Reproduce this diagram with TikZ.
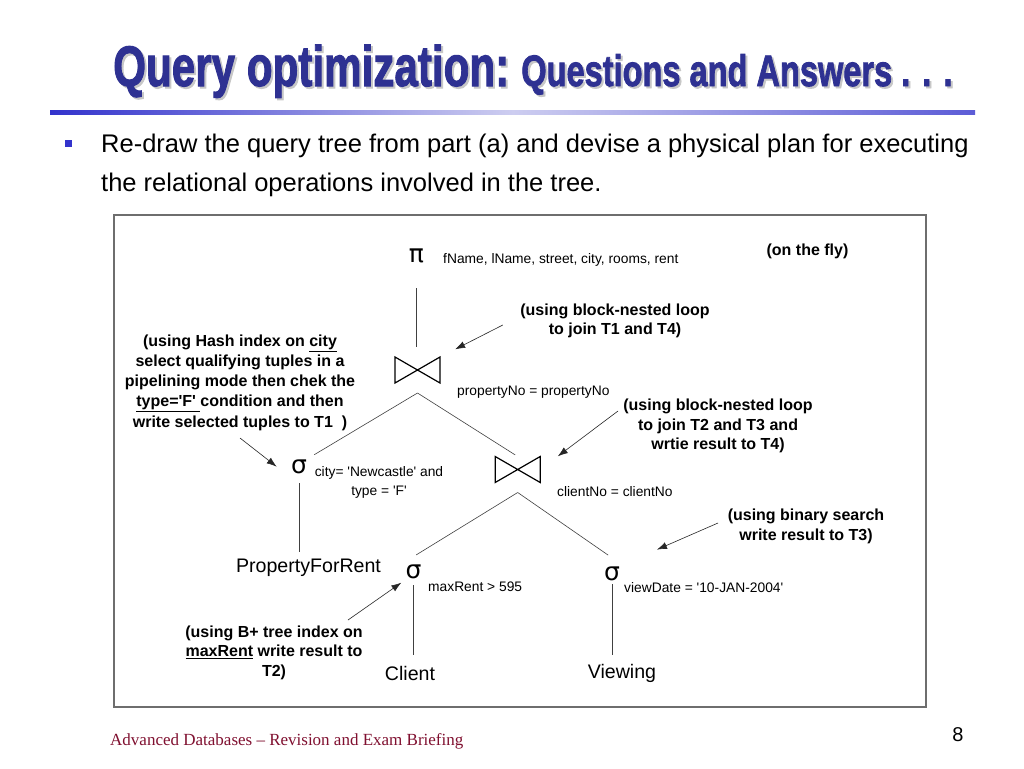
\documentclass[tikz,border=0pt]{standalone}
\usepackage{fontspec}
\setmainfont{Liberation Sans}
\newfontfamily\footfont{Liberation Serif}
\newfontfamily\opfont{DejaVu Sans}
\newfontfamily\titlefont{Liberation Sans}[BoldFeatures={FakeBold=2}]
\usetikzlibrary{arrows.meta}
\definecolor{TitleBlue}{RGB}{46,49,146}
\definecolor{BarBlue}{RGB}{51,51,204}
\definecolor{BarLight}{RGB}{205,205,240}
\definecolor{FootRed}{RGB}{128,16,48}
\definecolor{FrameGrey}{RGB}{110,110,110}
\newcommand{\tq}{\textquotesingle}
\newcommand{\qotitle}{\scalebox{0.74}[1]{\titlefont\bfseries\fontsize{57}{62}\selectfont Query optimization:\fontsize{44}{50}\selectfont{} Questions and Answers . . .}}

\begin{document}
\begin{tikzpicture}[
        x=1pt, y=-1pt,
        op/.style={inner sep=2pt, font=\opfont\fontsize{25}{28}\selectfont},
        cond/.style={anchor=west, inner sep=0pt, align=center, font=\fontsize{13.8}{19}\selectfont},
        relation/.style={inner sep=2pt, font=\fontsize{19.6}{22}\selectfont},
        note/.style={align=center, inner sep=0pt, font=\bfseries\fontsize{16}{19.4}\selectfont},
        joinop/.style={minimum width=45pt, minimum height=26pt, inner sep=0pt, outer sep=0pt},
        bowline/.style={draw, line width=1.2pt, line join=miter},
        edge/.style={draw, line width=0.6pt, black!75},
        arrow/.style={draw, -{Latex[length=10pt,width=7pt]}, line width=0.6pt, black!85}
    ]
    \fill[white] (0,0) rectangle (1024,768);
    \useasboundingbox (0,0) rectangle (1024,768);

    \node[anchor=base west, inner sep=0pt, text=black!22] (titleshadow) at (115,88) {\qotitle};
    \node[anchor=base west, inner sep=0pt, text=TitleBlue] (title) at (113,86) {\qotitle};
    \shade[left color=BarBlue, right color=BarBlue!80, middle color=BarLight] (50,110.5) rectangle (975,114.5);

    \node[fill=BarBlue, minimum size=7pt, inner sep=0pt] (bullet) at (68,143.5) {};
    \node[anchor=north west, inner sep=0pt, align=left, font=\fontsize{25.5}{39}\selectfont] (intro) at (101,133.4)
        {Re-draw the query tree from part (a) and devise a physical plan for executing\\the relational operations involved in the tree.};

    \draw[FrameGrey, line width=1.3pt] (114,215) rectangle (926,707);

    \node[op] (pi)   at (416.5,256) {π};
    \node[op] (sel1) at (299,467)   {σ};
    \node[op] (sel2) at (413.5,572) {σ};
    \node[op] (sel3) at (612,574)   {σ};
    \node[joinop] (join1) at (417.5,370) {};
    \node[joinop] (join2) at (517.7,469.5) {};
    \foreach \j in {join1,join2}
        \draw[bowline] (\j.north west) -- (\j.south east) -- (\j.north east) -- (\j.south west) -- cycle;

    \node[relation] (prop)   at (308.5,568) {PropertyForRent};
    \node[relation] (client) at (410,673)   {Client};
    \node[relation] (view)   at (622,673)   {Viewing};

    \node[cond] (projlist) at (443,260) {fName, lName, street, city, rooms, rent};
    \node[cond] (joincond1) at (457,392) {propertyNo = propertyNo};
    \node[cond] (joincond2) at (557,492) {clientNo = clientNo};
    \node[cond, anchor=center] (selcond1) at (379,482) {city= \tq Newcastle\tq{} and\\type = \tq F\tq};
    \node[cond] (selcond2) at (428,587) {maxRent > 595};
    \node[cond] (selcond3) at (624,588) {viewDate = \tq 10-JAN-2004\tq};

    \node[note] (fly) at (807.5,251) {(on the fly)};
    \node[note] (noteT1T4) at (615,321) {(using block-nested loop\\to join T1 and T4)};
    \node[note, font=\bfseries\fontsize{16}{20.2}\selectfont] (noteHash) at (240,382.5)
        {(using Hash index on \underline{city}\\select qualifying tuples in a\\pipelining mode then chek the\\\underline{type=\tq F\tq\ }condition and then\\write selected tuples to T1\ \ )};
    \node[note] (noteT2T3) at (718,426) {(using block-nested loop\\to join T2 and T3 and\\wrtie result to T4)};
    \node[note] (noteBin) at (806,526.5) {(using binary search\\write result to T3)};
    \node[note] (noteBtree) at (274,652.5) {(using B+ tree index on\\\underline{maxRent} write result to\\T2)};

    \path[edge, shorten <=23pt, shorten >=10pt] (pi) -- (pi |- join1.north);
    \path[edge, shorten >=6pt] ([yshift=-10pt]join1.south) -- (sel1.north east);
    \path[edge, shorten >=3pt] ([yshift=-10pt]join1.south) -- (join2.north);
    \path[edge, shorten <=7pt, shorten >=5pt] (sel1) -- (sel1 |- prop.north);
    \path[edge, shorten >=15pt] ([yshift=-10pt]join2.south) -- (sel2.north west);
    \path[edge, shorten >=17pt] ([yshift=-10pt]join2.south) -- (sel3.north east);
    \path[edge, shorten <=4pt, shorten >=9pt] (sel2) -- (sel2 |- client.north);
    \path[edge, shorten <=1pt, shorten >=7pt] (sel3) -- (sel3 |- view.north);

    \coordinate (tailHash)  at (240,438);
    \coordinate (tailT1T4)  at (502.8,325);
    \coordinate (tailT2T3)  at (618,411);
    \coordinate (tailBin)   at (718,523);
    \coordinate (tailBtree) at (348,620);
    \path[arrow, shorten >=15.5pt] (tailHash)  -- (sel1.south west);
    \path[arrow, shorten >=17pt]   (tailT1T4)  -- (join1.north east);
    \path[arrow, shorten >=22pt]   (tailT2T3)  -- (join2.east);
    \path[arrow, shorten >=38pt]   (tailBin)   -- (sel3.north east);
    \path[arrow, shorten >=2.5pt]  (tailBtree) -- (sel2.south west);

    \node[anchor=base west, inner sep=0pt, text=FootRed, font=\footfont\fontsize{17}{20}\selectfont] (footer) at (110,745)
        {Advanced Databases – Revision and Exam Briefing};
    \node[inner sep=0pt, font=\fontsize{20}{22}\selectfont] (pageno) at (958,735) {8};
\end{tikzpicture}
\end{document}
